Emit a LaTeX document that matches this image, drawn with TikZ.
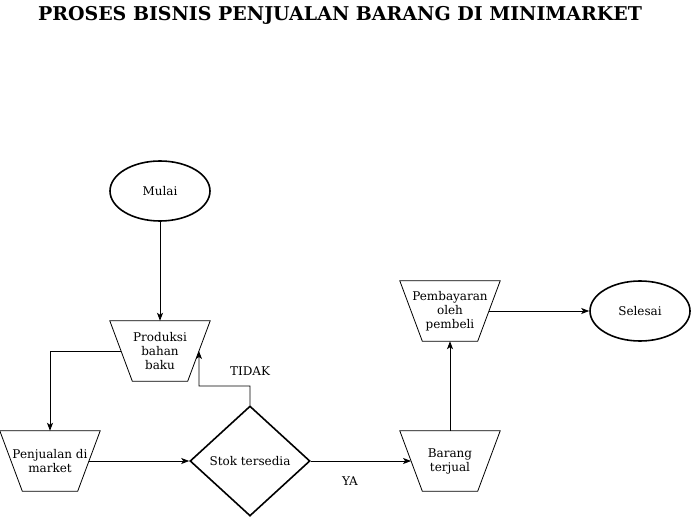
\documentclass[tikz,border=0pt]{standalone}
\usepackage{fontspec}
\setmainfont{DejaVu Serif}
\usetikzlibrary{shapes.geometric,arrows.meta}
\begin{document}
\begin{tikzpicture}[x=1pt,y=-1pt,
  every node/.style={font=\fontsize{12}{14}\selectfont, align=center},
  term/.style={ellipse, draw, line width=1.6pt, minimum width=100pt, minimum height=60pt, inner sep=0pt},
  manual/.style={rectangle, minimum width=100pt, minimum height=60pt, inner sep=0pt},
  trapline/.style={line width=0.8pt, line join=miter},
  decide/.style={diamond, draw, line width=1.6pt, minimum width=120pt, minimum height=110pt, aspect=1.09, inner sep=0pt},
  conn/.style={draw, line width=0.8pt, -{Stealth[length=8pt,width=6pt,inset=2pt]}},
  lbl/.style={font=\fontsize{12}{14}\selectfont}
]
\useasboundingbox (0,0) rectangle (692,518);
\node[anchor=base] (title) at (340,21) {\resizebox{604pt}{\height}{\fontsize{19}{19}\selectfont\bfseries PROSES BISNIS PENJUALAN BARANG DI MINIMARKET}};
\node[term] (mulai) at (160,191) {Mulai};
\node[manual] (prod) at (160,351) {Produksi\\bahan\\baku};
\node[manual] (jual) at (50,461) {Penjualan di\\market};
\node[decide] (stok) at (250,461) {Stok tersedia};
\node[manual] (barang) at (450,461) {Barang\\terjual};
\node[manual] (bayar) at (450,311) {Pembayaran\\oleh\\pembeli};
\node[term] (selesai) at (640,311) {Selesai};
\foreach \n in {prod,jual,barang,bayar}
  \draw[trapline] (\n.north west) -- (\n.north east) -- ([xshift=-22.5pt]\n.south east) -- ([xshift=22.5pt]\n.south west) -- cycle;
\coordinate (t1) at (250,386);
\coordinate (t2) at (199,386);
\coordinate (p1) at (50,351);
\draw[conn] (mulai) -- (prod.north);
\draw[conn] ([xshift=11.25pt]prod.west) -- (p1) -- (jual.north);
\draw[conn] ([xshift=-11.25pt]jual.east) -- (stok.west);
\draw[conn] (stok.north) -- (t1) -- (t2) -- ([xshift=-11.25pt]prod.east);
\draw[conn] (stok.east) -- ([xshift=11.25pt]barang.west);
\draw[conn] (barang.north) -- (bayar.south);
\draw[conn] ([xshift=-11.25pt]bayar.east) -- (selesai.west);
\node[lbl] (tidak) at (250,371) {TIDAK};
\node[lbl] (ya) at (350,481) {YA};
\end{tikzpicture}
\end{document}
